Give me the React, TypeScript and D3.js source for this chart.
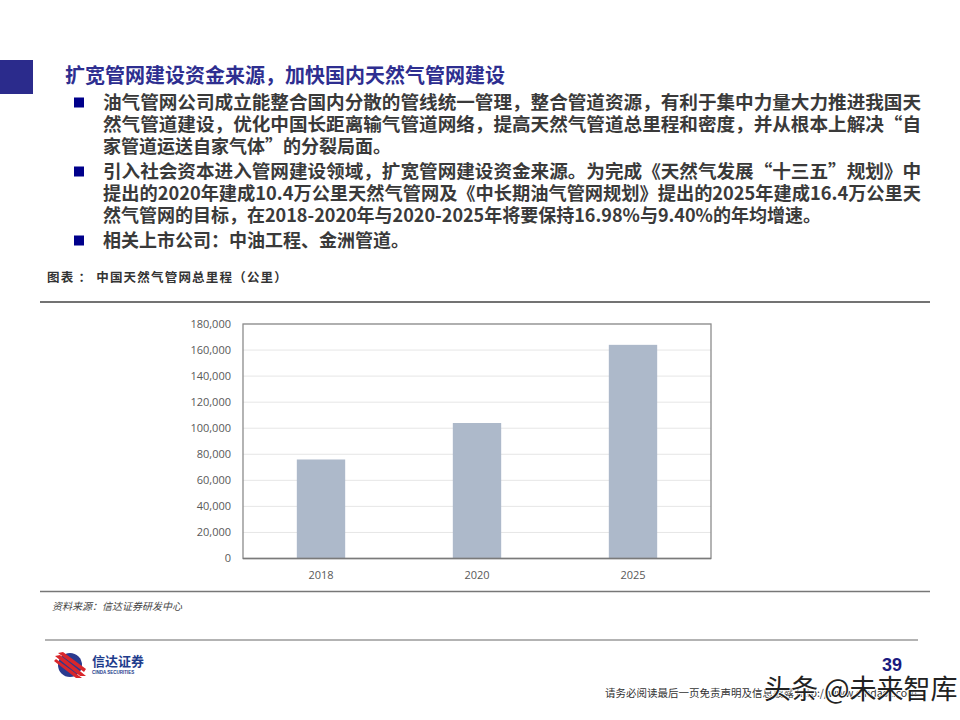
import React, { useEffect } from "react";
import * as d3 from "d3";

// 中国天然气管网总里程（公里）
const years = ["2018", "2020", "2025"];
const mileage = [76000, 104000, 164000];
const yMax = 180000;

const title = "扩宽管网建设资金来源，加快国内天然气管网建设";
const bullets = [
  [
    "油气管网公司成立能整合国内分散的管线统一管理，整合管道资源，有利于集中力量大力推进我国天",
    "然气管道建设，优化中国长距离输气管道网络，提高天然气管道总里程和密度，并从根本上解决“自",
    "家管道运送自家气体”的分裂局面。",
  ],
  [
    "引入社会资本进入管网建设领域，扩宽管网建设资金来源。为完成《天然气发展“十三五”规划》中",
    "提出的2020年建成10.4万公里天然气管网及《中长期油气管网规划》提出的2025年建成16.4万公里天",
    "然气管网的目标，在2018-2020年与2020-2025年将要保持16.98%与9.40%的年均增速。",
  ],
  ["相关上市公司：中油工程、金洲管道。"],
];
const fullLines = [
  [true, true, false],
  [true, true, false],
  [false],
];

const cjk = "'Noto Sans CJK SC', 'Noto Sans', sans-serif";

const App = () => {
  useEffect(() => {
    document.body.style.margin = "0";
  }, []);

  const left = 243;
  const right = 711;
  const top = 324;
  const bottom = 558.5;

  const x = d3.scaleBand<string>().domain(years).range([left, right]).padding(0);
  const y = d3.scaleLinear().domain([0, yMax]).range([bottom, top]);
  const ticks = y.ticks(9);
  const fmt = d3.format(",");
  const barW = x.bandwidth() * 0.31;

  let lineY = 103;
  const bulletEls: React.ReactNode[] = [];
  bullets.forEach((para, pi) => {
    if (pi > 0) lineY += 3;
    para.forEach((ln, li) => {
      if (li === 0) {
        bulletEls.push(
          <rect key={`b${pi}`} x={74} y={lineY - 5.5} width={10} height={10} fill="#00008b" />
        );
      }
      bulletEls.push(
        <text
          key={`t${pi}-${li}`}
          x={103}
          y={lineY}
          dy="0.36em"
          fontSize={18}
          fontWeight={700}
          fill="#3a3a3a"
          fontFamily={cjk}
          {...(fullLines[pi][li] ? { textLength: 818, lengthAdjust: "spacingAndGlyphs" } : {})}
        >
          {ln}
        </text>
      );
      lineY += 22;
    });
  });

  return (
    <svg
      width={960}
      height={720}
      style={{ position: "absolute", left: 0, top: 0, background: "#fff" }}
    >
      {/* header */}
      <rect x={0} y={60} width={33} height={34} fill="#2b2b8c" />
      <text x={65} y={76} dy="0.36em" fontSize={20} fontWeight={700} fill="#2e2e90" fontFamily={cjk}>
        {title}
      </text>
      {bulletEls}

      {/* chart caption */}
      <text x={47} y={277} dy="0.36em" fontSize={12.5} fontWeight={700} fill="#333" letterSpacing={1.2} fontFamily={cjk}>
        图表 ： 中国天然气管网总里程（公里）
      </text>
      <line x1={40} x2={930} y1={302} y2={302} stroke="#444" strokeWidth={1.5} />

      {/* grid */}
      {ticks.map((t) => (
        <line key={`g${t}`} x1={left} x2={right} y1={y(t)} y2={y(t)} stroke="#e6e6e6" strokeWidth={1} />
      ))}
      {/* bars */}
      {years.map((yr, i) => (
        <rect
          key={yr}
          x={(x(yr) as number) + x.bandwidth() / 2 - barW / 2}
          y={y(mileage[i])}
          width={barW}
          height={y(0) - y(mileage[i])}
          fill="#adb9ca"
        />
      ))}
      {/* frame */}
      <rect x={left} y={top} width={right - left} height={bottom - top} fill="none" stroke="#8c8c8c" strokeWidth={1.3} />
      <line x1={left} x2={right} y1={bottom} y2={bottom} stroke="#7a7a7a" strokeWidth={1.5} />
      {/* y labels */}
      {ticks.map((t) => (
        <text
          key={`y${t}`}
          x={231}
          y={y(t)}
          dy="0.35em"
          textAnchor="end"
          fontSize={11}
          fill="#595959"
          fontFamily="'Open Sans', sans-serif"
        >
          {fmt(t)}
        </text>
      ))}
      {/* x labels */}
      {years.map((yr) => (
        <text
          key={`x${yr}`}
          x={(x(yr) as number) + x.bandwidth() / 2}
          y={575}
          dy="0.35em"
          textAnchor="middle"
          fontSize={11}
          fill="#595959"
          fontFamily="'Open Sans', sans-serif"
        >
          {yr}
        </text>
      ))}

      <line x1={40} x2={930} y1={591.5} y2={591.5} stroke="#777" strokeWidth={1.5} />
      <text x={52} y={606} dy="0.35em" fontSize={10} fontStyle="italic" fill="#444" fontFamily={cjk}>
        资料来源：信达证券研发中心
      </text>

      {/* footer */}
      <line x1={45} x2={918} y1={640} y2={640} stroke="#9a9a9a" strokeWidth={1.5} />
      <g>
        <circle cx={70} cy={665} r={12} fill="#2b3a8f" />
        <path d="M55,656 L80,676 L86,676 L60,655 Z" fill="#d9262b" />
        <path d="M54,661 L76,678 L82,678 L56,659 Z" fill="#d9262b" />
        <path d="M58,653 L84,672 L86,669 L63,652 Z" fill="#d9262b" />
      </g>
      <text x={92} y={661} dy="0.35em" fontSize={13} fontWeight={700} fill="#1e3c8c" fontFamily={cjk}>
        信达证券
      </text>
      <text x={92} y={672} dy="0.35em" fontSize={4.5} fontWeight={700} fill="#1e3c8c" fontFamily="'Liberation Sans', sans-serif">
        CINDA SECURITIES
      </text>
      <text x={902} y={665} dy="0.35em" textAnchor="end" fontSize={18} fontWeight={700} fill="#1a1a80" fontFamily="'Liberation Sans', Arial, sans-serif">
        39
      </text>
      <text x={605} y={693} dy="0.35em" fontSize={10.5} fill="#333" fontFamily={cjk}>
        请务必阅读最后一页免责声明及信息披露 http://www.cindasc.com
      </text>
      <text
        x={764}
        y={689}
        dy="0.36em"
        fontSize={27}
        fill="#222"
        stroke="#fff"
        strokeWidth={1.5}
        paintOrder="stroke"
        fontFamily={cjk}
      >
        头条 @未来智库
      </text>
    </svg>
  );
};

export default App;
